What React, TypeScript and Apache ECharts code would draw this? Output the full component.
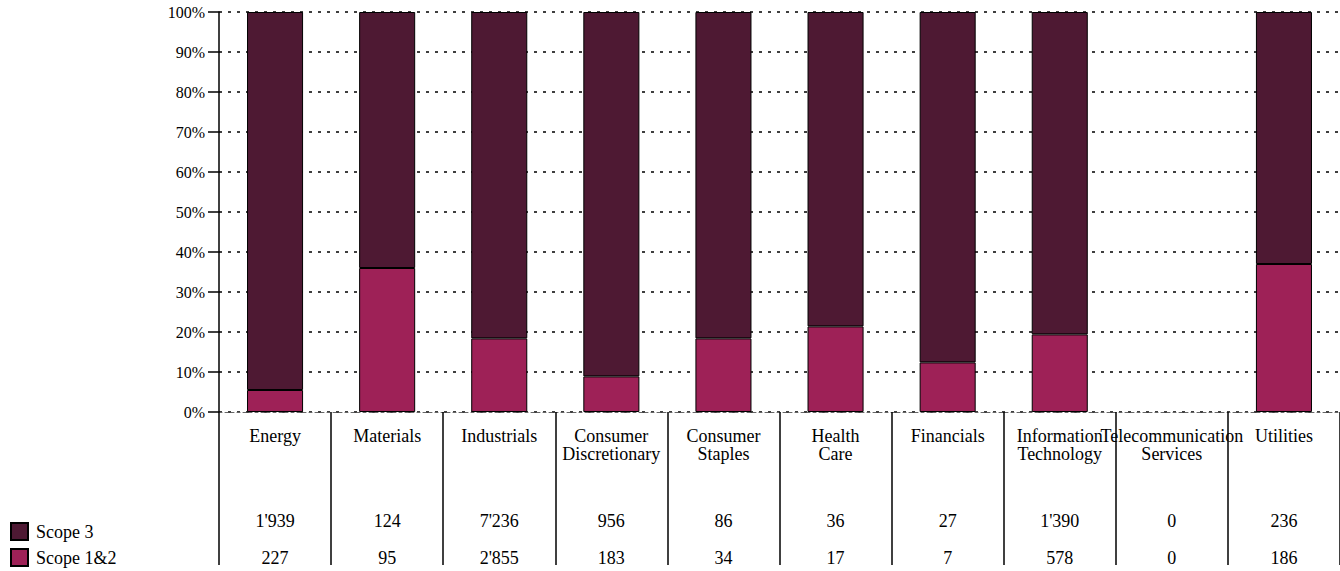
import React, { useEffect, useRef } from "react";
import * as echarts from "echarts";

const categories = [
  "Energy",
  "Materials",
  "Industrials",
  "Consumer\nDiscretionary",
  "Consumer\nStaples",
  "Health\nCare",
  "Financials",
  "Information\nTechnology",
  "Telecommunication\nServices",
  "Utilities",
];
// share (%) of Scope 1&2 in each bar
const scope12Share = [5.5, 36, 18.4, 8.9, 18.4, 21.4, 12.4, 19.4, 0, 37];
// share (%) of Scope 3 in each bar
const scope3Share = [94.5, 64, 81.6, 91.1, 81.6, 78.6, 87.6, 80.6, 0, 63];
// table values
const scope3Totals = [1939, 124, 7236, 956, 86, 36, 27, 1390, 0, 236];
const scope12Totals = [227, 95, 2855, 183, 34, 17, 7, 578, 0, 186];

const FONT = "Liberation Serif";
const DARK = "#4e1933";
const PINK = "#9e2157";

const fmt = (n: number) => String(n).replace(/\B(?=(\d{3})+(?!\d))/g, "'");
const nz = (arr: number[]) => arr.map((v) => (v === 0 ? null : v));

export default function App() {
  const ref = useRef<HTMLDivElement>(null);
  useEffect(() => {
    if (!ref.current) return;
    const chart = echarts.init(ref.current, undefined, { renderer: "svg" });
    const hiddenAxis = (values: number[], margin: number) => ({
      type: "category" as const,
      gridIndex: 0,
      data: categories,
      position: "bottom" as const,
      offset: 0,
      axisLine: { show: false },
      axisTick: { show: false },
      splitLine: { show: false },
      axisLabel: {
        interval: 0,
        margin,
        fontFamily: FONT,
        fontSize: 18,
        color: "#000",
        formatter: (_v: string, i: number) => fmt(values[i]),
      },
    });
    chart.setOption({
      animation: false,
      textStyle: { fontFamily: FONT },
      grid: { left: 219, right: 0, top: 12, bottom: 159, containLabel: false },
      legend: {
        orient: "vertical",
        left: 10,
        top: 522,
        padding: 0,
        itemWidth: 17,
        itemHeight: 17,
        itemGap: 7,
        icon: "rect",
        data: ["Scope 3", "Scope 1&2"],
        textStyle: { fontFamily: FONT, fontSize: 18, color: "#000", padding: [0, 0, 0, 3], lineHeight: 18 },
      },
      xAxis: [
        {
          type: "category",
          data: categories,
          axisLine: { show: true, lineStyle: { color: "#666", type: [3, 3], width: 1 } },
          axisTick: {
            show: true,
            interval: 0,
            length: 153,
            lineStyle: { color: "#000", width: 1.5 },
          },
          axisLabel: {
            interval: 0,
            margin: 15,
            fontFamily: FONT,
            fontSize: 18,
            lineHeight: 18,
            color: "#000",
            hideOverlap: false,
          },
        },
        hiddenAxis(scope3Totals, 100),
        hiddenAxis(scope12Totals, 137),
      ],
      yAxis: {
        type: "value",
        min: 0,
        max: 100,
        interval: 10,
        axisLine: { show: true, lineStyle: { color: "#000", width: 1.5 } },
        axisTick: { show: true, length: 11, lineStyle: { color: "#000", width: 1.5 } },
        axisLabel: {
          formatter: "{value}%",
          margin: 14,
          fontFamily: FONT,
          fontSize: 16,
          color: "#000",
        },
        splitLine: {
          show: true,
          lineStyle: { color: "#000", type: [3, 6], width: 1.5 },
        },
      },
      series: [
        {
          name: "Scope 1&2",
          type: "bar",
          stack: "total",
          barWidth: "50%",
          data: nz(scope12Share),
          itemStyle: { color: PINK, borderColor: "#000", borderWidth: 1 },
        },
        {
          name: "Scope 3",
          type: "bar",
          stack: "total",
          barWidth: "50%",
          data: nz(scope3Share),
          itemStyle: { color: DARK, borderColor: "#000", borderWidth: 1 },
        },
      ],
    });
    return () => chart.dispose();
  }, []);
  return (
    <div
      ref={ref}
      style={{ position: "fixed", left: 0, top: 0, width: 1340, height: 571, background: "#fff" }}
    />
  );
}
